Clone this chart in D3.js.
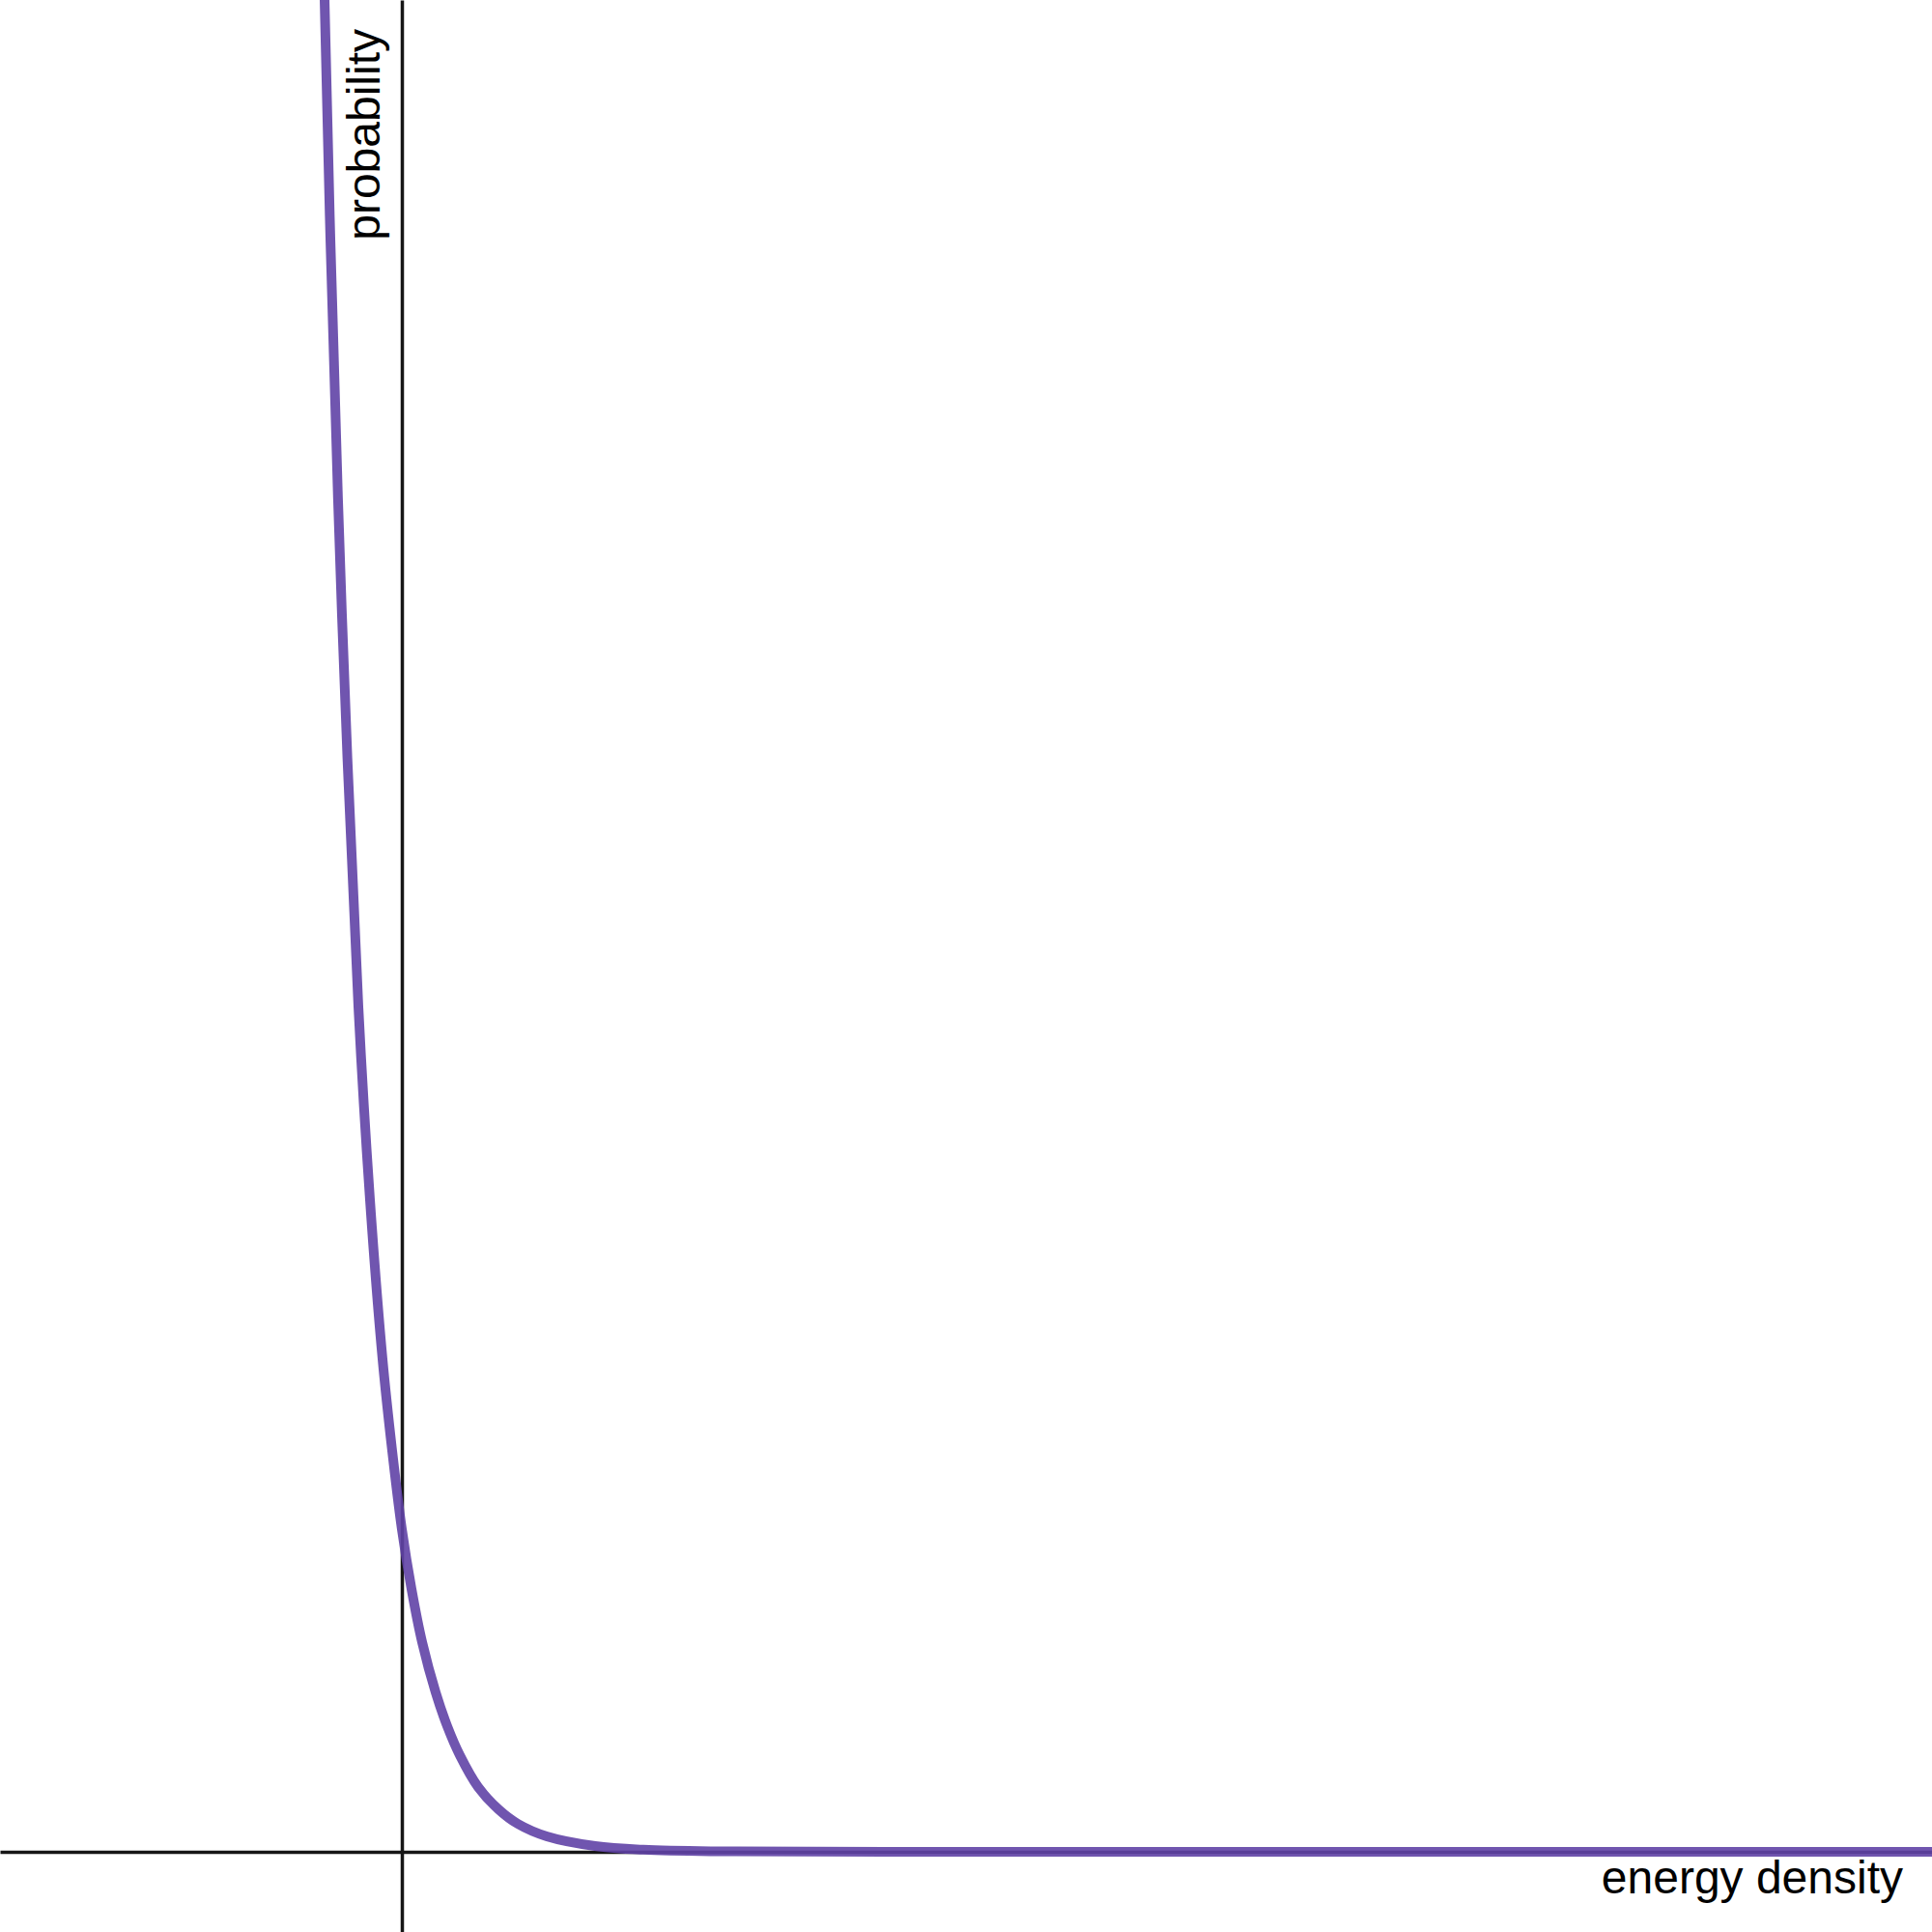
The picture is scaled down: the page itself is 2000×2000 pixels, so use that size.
<!DOCTYPE html>
<html lang="en">
  <head>
    <meta charset="UTF-8" />
    <title>Probability vs energy density</title>
    <style>
      html, body { margin: 0; padding: 0; background: #fff; }
      svg { display: block; }
      text { font-family: 'Liberation Sans', Arial, sans-serif; fill: #000; }
    </style>
  </head>
  <body>
    <svg id="Chart"></svg>
    <script src="https://d3js.org/d3.v7.min.js"></script>
    <script>
      // curve (arbitrary units, axes cross at 0,0)
      const energy = [-0.82, -0.80, -0.74, -0.62, -0.45, -0.33, -0.20, -0.10, 0, 0.10, 0.21, 0.35, 0.47, 0.60, 0.79, 1.0, 1.2, 1.5, 2.0, 2.5, 3.3, 5, 10, 16];
      const probability = [20.0, 19.17, 16.7, 12.8, 8.75, 6.75, 5.1, 4.15, 3.34, 2.72, 2.17, 1.65, 1.3, 1.0, 0.67, 0.44, 0.29, 0.16, 0.06, 0.022, 0.005, 0.0005, 0, 0];

      const xDomain = [-4.16, 15.84];
      const yDomain = [-0.83, 19.17];

      const xLabel = 'energy density';
      const yLabel = 'probability';

      function getConfig() {
        let width = 2000;
        let height = 2000;
        let container = d3.select('#Chart').attr('width', width).attr('height', height);
        return { width, height, container };
      }

      function getScales(config) {
        let xScale = d3.scaleLinear().domain(xDomain).range([0, config.width]);
        let yScale = d3.scaleLinear().domain(yDomain).range([config.height, 0]);
        return { xScale, yScale };
      }

      function drawAxes(scales, config) {
        let { xScale, yScale } = scales;
        let { container } = config;

        let axisX = d3.axisBottom(xScale).tickValues([]).tickSizeOuter(0);
        let gx = container.append('g')
          .attr('transform', `translate(0,${yScale(0)})`)
          .call(axisX);

        let axisY = d3.axisLeft(yScale).tickValues([]).tickSizeOuter(0);
        let gy = container.append('g')
          .attr('transform', `translate(${xScale(0)},0)`)
          .call(axisY);

        [gx, gy].forEach((g) => {
          g.select('.domain').attr('stroke', '#161616').attr('stroke-width', 3.5);
        });
      }

      function drawCurve(scales, config) {
        let { xScale, yScale } = scales;
        let { container, width, height } = config;
        let points = energy.map((e, i) => ({ x: e, y: probability[i] }));

        container.append('clipPath').attr('id', 'plotClip')
          .append('rect').attr('width', width).attr('height', height);

        // centripetal catmull-rom keeps the knee smooth with uneven spacing
        let line = d3.line()
          .x((d) => xScale(d.x))
          .y((d) => yScale(d.y))
          .curve(d3.curveCatmullRom.alpha(0.5));

        container.append('path')
          .datum(points)
          .attr('clip-path', 'url(#plotClip)')
          .attr('d', line)
          .attr('fill', 'none')
          .attr('stroke', '#6042a6')
          .attr('stroke-opacity', 0.9)
          .attr('stroke-width', 10)
          .attr('stroke-linejoin', 'round');
      }

      function drawLabels(scales, config) {
        let { xScale, yScale } = scales;
        let { container } = config;

        container.append('text')
          .attr('x', 1970)
          .attr('y', yScale(0) + 43)
          .attr('text-anchor', 'end')
          .style('font-size', '48px')
          .text(xLabel);

        container.append('text')
          .attr('transform', `translate(${xScale(0) - 23},30) rotate(-90)`)
          .attr('text-anchor', 'end')
          .style('font-size', '48px')
          .text(yLabel);
      }

      let config = getConfig();
      let scales = getScales(config);
      drawAxes(scales, config);
      drawCurve(scales, config);
      drawLabels(scales, config);
    </script>
  </body>
</html>
